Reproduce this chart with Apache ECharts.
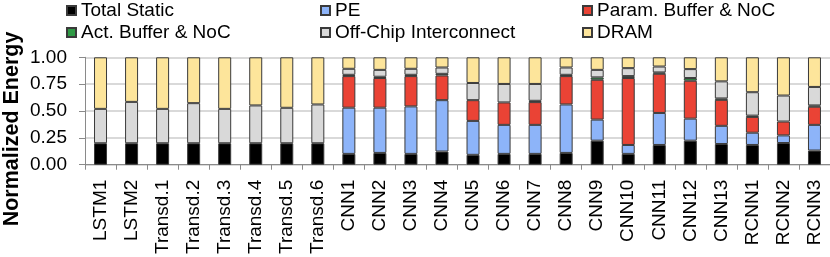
<!DOCTYPE html>
<html><head><meta charset="utf-8">
<script src="https://cdn.jsdelivr.net/npm/echarts@6/dist/echarts.min.js"></script>
<style>html,body{margin:0;padding:0;background:#fff}#c{width:830px;height:257px}</style>
</head><body><div id="c"></div>
<script>
const categories = ['LSTM1','LSTM2','Transd.1','Transd.2','Transd.3','Transd.4','Transd.5','Transd.6',
  'CNN1','CNN2','CNN3','CNN4','CNN5','CNN6','CNN7','CNN8','CNN9','CNN10','CNN11','CNN12','CNN13',
  'RCNN1','RCNN2','RCNN3'];
const yTicks = [0, 0.25, 0.5, 0.75, 1.0];
const totalStatic = [0.20,0.20,0.20,0.20,0.20,0.20,0.20,0.20, 0.101,0.110,0.101,0.123,0.092,0.101,0.101,0.110,0.224,0.101,0.184,0.224,0.193,0.184,0.202,0.132];
const pe          = [0,0,0,0,0,0,0,0, 0.430,0.421,0.442,0.478,0.316,0.270,0.270,0.451,0.196,0.083,0.298,0.205,0.169,0.114,0.071,0.239];
const paramBuf    = [0,0,0,0,0,0,0,0, 0.294,0.276,0.282,0.230,0.193,0.209,0.212,0.264,0.371,0.623,0.365,0.353,0.242,0.147,0.129,0.169];
const actBuf      = [0,0,0,0,0,0,0,0, 0.012,0.012,0.012,0.015,0,0,0.012,0.012,0.022,0.018,0.012,0.025,0.013,0.012,0,0.012];
const offChip     = [0.32,0.385,0.32,0.373,0.32,0.352,0.33,0.361, 0.056,0.064,0.056,0.059,0.160,0.172,0.157,0.068,0.070,0.074,0.055,0.083,0.159,0.218,0.242,0.172];
const dram        = [0.48,0.415,0.48,0.427,0.48,0.448,0.47,0.439, 0.107,0.117,0.107,0.095,0.239,0.248,0.248,0.095,0.117,0.101,0.086,0.110,0.224,0.325,0.356,0.276];

const FONT = '"Liberation Sans", Arial, sans-serif';
const seriesDefs = [
  ['Total Static', totalStatic, '#000000'],
  ['PE', pe, '#8db4f9'],
  ['Param. Buffer & NoC', paramBuf, '#ea4335'],
  ['Act. Buffer & NoC', actBuf, '#2f9a45'],
  ['Off-Chip Interconnect', offChip, '#d9d9d9'],
  ['DRAM', dram, '#fde59b']
];
const chart = echarts.init(document.getElementById('c'), null, {renderer: 'canvas'});
const legendCommon = {
  orient: 'vertical', itemWidth: 9, itemHeight: 9, itemGap: 3, padding: 0,
  icon: 'rect',
  textStyle: {fontFamily: FONT, fontSize: 19, color: '#000', lineHeight: 19}
};
chart.setOption({
  animation: false,
  textStyle: {fontFamily: FONT},
  legend: [
    Object.assign({left: 66, top: 1, data: ['Total Static', 'Act. Buffer & NoC']}, legendCommon),
    Object.assign({left: 320, top: 1, data: ['PE', 'Off-Chip Interconnect']}, legendCommon),
    Object.assign({left: 582, top: 1, data: ['Param. Buffer & NoC', 'DRAM']}, legendCommon)
  ],
  grid: {left: 85, right: 0, top: 57.3, bottom: 91, containLabel: false},
  graphic: [{
    type: 'text', x: 12, y: 129, rotation: Math.PI / 2,
    style: {text: 'Normalized Energy', font: 'bold 21.5px ' + FONT, fill: '#000',
      textAlign: 'center', textVerticalAlign: 'middle'}
  }],
  xAxis: {
    type: 'category', data: categories, boundaryGap: true,
    axisLine: {lineStyle: {color: '#8a8a8a', width: 1}},
    axisTick: {show: true, length: 5, lineStyle: {color: '#8a8a8a'}},
    axisLabel: {rotate: 90, interval: 0, fontSize: 19, color: '#000', margin: 15, fontFamily: FONT}
  },
  yAxis: {
    type: 'value', min: yTicks[0], max: yTicks[yTicks.length - 1], interval: yTicks[1] - yTicks[0],
    axisLine: {show: true, lineStyle: {color: '#8a8a8a', width: 1}},
    axisTick: {show: true, length: 6, lineStyle: {color: '#8a8a8a'}},
    splitLine: {show: true, lineStyle: {color: '#cccccc', width: 1.5}},
    axisLabel: {fontSize: 19, color: '#000', margin: 18, fontFamily: FONT,
      formatter: v => v.toFixed(2)}
  },
  series: seriesDefs.map(([name, vals, color]) => ({
    name, type: 'bar', stack: 'e', barWidth: 13,
    data: vals.map(v => v === 0 ? null : v),
    itemStyle: {color, borderColor: '#3a3a3a', borderWidth: 1}
  }))
});
</script>
</body></html>
